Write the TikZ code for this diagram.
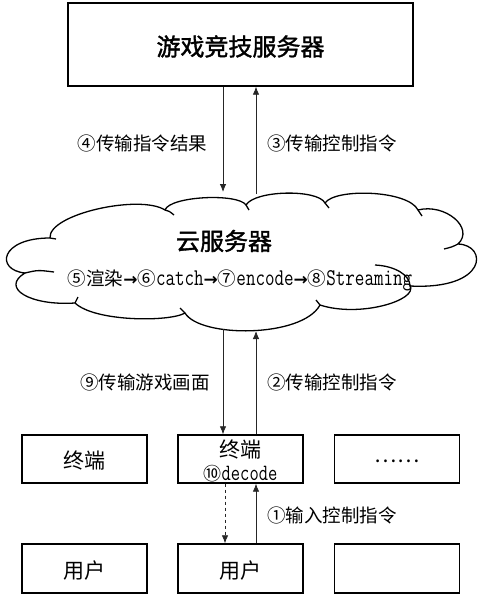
\documentclass[tikz,border=0pt]{standalone}
\usepackage{fontspec}
\usepackage{graphicx}
\setmainfont{Noto Sans CJK SC}[AutoFakeBold=1.5]
\newfontfamily\arrfont{DejaVu Sans}
\newcommand\latword[1]{\scalebox{1}[1.3]{\ttfamily #1}}
\newcommand\procarrow{{\arrfont\bfseries\fontsize{17}{20}\selectfont →}}
\usetikzlibrary{arrows.meta,calc}
\tikzset{
  box/.style={draw=black, line width=1.4pt, fill=white, inner sep=0pt},
  arr/.style={line width=0.8pt, draw=black!85, -{Latex[length=8pt,width=6.5pt]}},
  cloudline/.style={line width=1.3pt, line join=round},
  lbl/.style={inner sep=0pt, font=\fontsize{18.5}{22}\selectfont},
  boxtxt/.style={inner sep=0pt, font=\fontsize{21}{25}\selectfont},
}
\begin{document}
\begin{tikzpicture}[x=1pt,y=-1pt]
\useasboundingbox (0,0) rectangle (477,596);
% top server
\node[box, minimum width=345pt, minimum height=83pt] (top) at (240.5,44.5) {};
\node[inner sep=0pt, font=\fontsize{24}{28}\selectfont\bfseries] (toptxt) at (240.5,46.5) {游戏竞技服务器};
% cloud
\draw[cloudline] (50,238)
 .. controls (48,214) and (140,194) .. (165,210)
 .. controls (170,196) and (238,193) .. (246,205)
 .. controls (255,190) and (318,189) .. (325,203)
 .. controls (335,188) and (408,190) .. (418,210)
 .. controls (445,203) and (475,228) .. (458,244)
 .. controls (488,245) and (488,290) .. (410,286)
 .. controls (418,300) and (360,318) .. (320,305)
 .. controls (302,338) and (200,338) .. (185,313)
 .. controls (170,322) and (95,322) .. (75,303)
 .. controls (30,306) and (0,288) .. (25,273)
 .. controls (-5,270) and (0,238) .. (50,238) -- cycle;
\draw[cloudline] (50,238) .. controls (53,238) .. (56,239);
\draw[cloudline] (165,210) .. controls (169,211) .. (174,215);
\draw[cloudline] (246,205) .. controls (248,207) .. (249,210);
\draw[cloudline] (325,203) .. controls (327,205) .. (329,208);
\draw[cloudline] (418,210) .. controls (420,213) .. (422,216);
\draw[cloudline] (458,244) .. controls (452,247) .. (444,249);
\draw[cloudline] (410,286) .. controls (410,275) and (395,266) .. (375,265);
\draw[cloudline] (320,305) .. controls (318,303) .. (316,300);
\draw[cloudline] (185,313) .. controls (183,311) .. (180,308);
\draw[cloudline] (75,303) .. controls (76,300) .. (78,297);
\draw[cloudline] (25,273) .. controls (38,270) .. (54,272);
\node[inner sep=0pt, font=\fontsize{24}{28}\selectfont\bfseries] (cloudtxt) at (224,241) {云服务器};
\node[inner sep=0pt, font=\fontsize{18.5}{21}\selectfont] (proc) at (240,280)
  {⑤渲染\procarrow⑥\latword{catch}\procarrow⑦\latword{encode}\procarrow⑧\latword{Streaming}};
% connection points on the cloud
\coordinate (ct1) at (223,192);
\coordinate (ct2) at (256,194);
\coordinate (cb1) at (223,329);
\coordinate (cb2) at (256,331);
\coordinate (dx) at (225,0);
\coordinate (ux) at (256,0);
% terminals
\node[box, minimum width=125pt, minimum height=48pt] (t1) at (84.5,459) {};
\node[box, minimum width=125pt, minimum height=48pt] (t2) at (240.5,459) {};
\node[box, minimum width=125pt, minimum height=48pt] (t3) at (397,459) {};
\node[boxtxt] (t1txt) at (84.5,461) {终端};
\node[boxtxt] (t2txt) at (240.5,450) {终端};
\node[inner sep=0pt, font=\fontsize{18}{20}\selectfont] (t2dec) at (240.5,474) {⑩\latword{decode}};
\node[boxtxt] (t3txt) at (397,461) {……};
% users
\node[box, minimum width=125pt, minimum height=49pt] (u1) at (84.5,568.5) {};
\node[box, minimum width=125pt, minimum height=49pt] (u2) at (240.5,568.5) {};
\node[box, minimum width=125pt, minimum height=49pt] (u3) at (397,568.5) {};
\node[boxtxt] (u1txt) at (84.5,571) {用户};
\node[boxtxt] (u2txt) at (240.5,571) {用户};
% arrows
\draw[arr] (top.south -| ct1) -- (ct1);
\draw[arr] (ct2) -- (top.south -| ct2);
\draw[arr] (cb1) -- (t2.north -| cb1);
\draw[arr] (t2.north -| cb2) -- (cb2);
\draw[arr, dashed] (t2.south -| dx) -- (u2.north -| dx);
\draw[arr] (u2.north -| ux) -- (t2.south -| ux);
% labels
\node[lbl] (l4) at (142.5,143) {④传输指令结果};
\node[lbl] (l3) at (332,143) {③传输控制指令};
\node[lbl] (l9) at (145,382) {⑨传输游戏画面};
\node[lbl] (l2) at (332,382) {②传输控制指令};
\node[lbl] (l1) at (332,515) {①输入控制指令};
\end{tikzpicture}
\end{document}
